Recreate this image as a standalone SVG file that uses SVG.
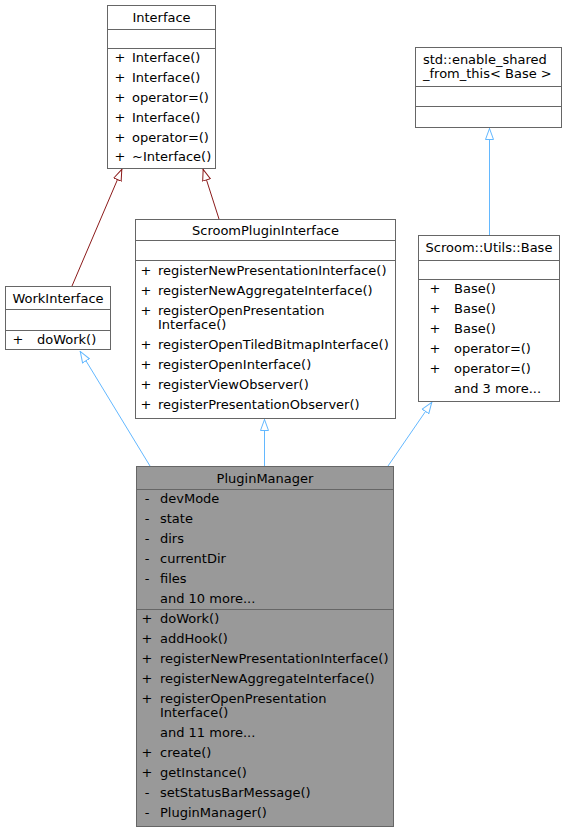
<svg xmlns="http://www.w3.org/2000/svg" width="567" height="832" viewBox="0 0 567 832">
<style>
text{font-family:"DejaVu Sans","Liberation Sans",sans-serif;font-size:13px;fill:#000}
.box{fill:#fff;stroke:#666;stroke-width:1}
.gbox{fill:#999;stroke:#666;stroke-width:1}
.div{stroke:#666;stroke-width:1}
.c{text-anchor:middle}
.red{stroke:#8b1a1a;stroke-width:1;fill:none}
.blue{stroke:#63b8ff;stroke-width:1;fill:none}
</style>
<defs>
<marker id="ar" viewBox="0 0 12 10" refX="12" refY="5" markerWidth="12" markerHeight="10" markerUnits="userSpaceOnUse" orient="auto">
<path d="M0.5,1 L11.5,5 L0.5,9 z" fill="#fff" stroke="#8b1a1a"/>
</marker>
<marker id="ab" viewBox="0 0 12 10" refX="12" refY="5" markerWidth="12" markerHeight="10" markerUnits="userSpaceOnUse" orient="auto">
<path d="M0.5,1 L11.5,5 L0.5,9 z" fill="#fff" stroke="#63b8ff"/>
</marker>
</defs>

<g id="edges">
<line class="red" x1="72" y1="286" x2="122" y2="169" marker-end="url(#ar)"/>
<line class="red" x1="219" y1="219" x2="203" y2="169" marker-end="url(#ar)"/>
<line class="blue" x1="150" y1="466" x2="80" y2="351" marker-end="url(#ab)"/>
<line class="blue" x1="264.5" y1="466" x2="264.5" y2="419" marker-end="url(#ab)"/>
<line class="blue" x1="388" y1="466" x2="432" y2="402" marker-end="url(#ab)"/>
<line class="blue" x1="489.5" y1="235" x2="489.5" y2="128" marker-end="url(#ab)"/>
</g>

<g id="Interface">
<rect class="box" x="107.5" y="5.5" width="108" height="163"/>
<line class="div" x1="107.5" y1="29.5" x2="215.5" y2="29.5"/>
<line class="div" x1="107.5" y1="48.5" x2="215.5" y2="48.5"/>
<text class="c" x="161.5" y="22">Interface</text>
<text class="c" x="120" y="62">+</text><text x="132" y="62">Interface()</text>
<text class="c" x="120" y="82">+</text><text x="132" y="82">Interface()</text>
<text class="c" x="120" y="102">+</text><text x="132" y="102">operator=()</text>
<text class="c" x="120" y="122">+</text><text x="132" y="122">Interface()</text>
<text class="c" x="120" y="142">+</text><text x="132" y="142">operator=()</text>
<text class="c" x="120" y="161">+</text><text x="132" y="161">~Interface()</text>
</g>

<g id="EnableShared">
<rect class="box" x="415.5" y="47.5" width="146" height="80"/>
<line class="div" x1="415.5" y1="86.5" x2="561.5" y2="86.5"/>
<line class="div" x1="415.5" y1="106.5" x2="561.5" y2="106.5"/>
<text x="423" y="64">std::enable_shared</text>
<text x="423" y="78">_from_this&lt; Base &gt;</text>
</g>

<g id="WorkInterface">
<rect class="box" x="5.5" y="286.5" width="105" height="63"/>
<line class="div" x1="5.5" y1="309.5" x2="110.5" y2="309.5"/>
<line class="div" x1="5.5" y1="330.5" x2="110.5" y2="330.5"/>
<text class="c" x="58" y="303">WorkInterface</text>
<text class="c" x="18" y="344">+</text><text x="37" y="344">doWork()</text>
</g>

<g id="ScroomPluginInterface">
<rect class="box" x="135.5" y="219.5" width="260" height="199"/>
<line class="div" x1="135.5" y1="240.5" x2="395.5" y2="240.5"/>
<line class="div" x1="135.5" y1="260.5" x2="395.5" y2="260.5"/>
<text class="c" x="265.5" y="235">ScroomPluginInterface</text>
<text class="c" x="146" y="275">+</text><text x="158" y="275">registerNewPresentationInterface()</text>
<text class="c" x="146" y="295">+</text><text x="158" y="295">registerNewAggregateInterface()</text>
<text class="c" x="146" y="315">+</text><text x="158" y="315">registerOpenPresentation</text>
<text x="158" y="329">Interface()</text>
<text class="c" x="146" y="349">+</text><text x="158" y="349">registerOpenTiledBitmapInterface()</text>
<text class="c" x="146" y="369">+</text><text x="158" y="369">registerOpenInterface()</text>
<text class="c" x="146" y="389">+</text><text x="158" y="389">registerViewObserver()</text>
<text class="c" x="146" y="409">+</text><text x="158" y="409">registerPresentationObserver()</text>
</g>

<g id="Base">
<rect class="box" x="418.5" y="235.5" width="141" height="166"/>
<line class="div" x1="418.5" y1="260.5" x2="559.5" y2="260.5"/>
<line class="div" x1="418.5" y1="279.5" x2="559.5" y2="279.5"/>
<text class="c" x="489" y="252">Scroom::Utils::Base</text>
<text class="c" x="435" y="293">+</text><text x="454" y="293">Base()</text>
<text class="c" x="435" y="313">+</text><text x="454" y="313">Base()</text>
<text class="c" x="435" y="333">+</text><text x="454" y="333">Base()</text>
<text class="c" x="435" y="353">+</text><text x="454" y="353">operator=()</text>
<text class="c" x="435" y="373">+</text><text x="454" y="373">operator=()</text>
<text x="454" y="393">and 3 more...</text>
</g>

<g id="PluginManager">
<rect class="gbox" x="136.5" y="466.5" width="257" height="360"/>
<line class="div" x1="136.5" y1="489.5" x2="393.5" y2="489.5"/>
<line class="div" x1="136.5" y1="609.5" x2="393.5" y2="609.5"/>
<text class="c" x="265" y="483">PluginManager</text>
<text class="c" x="147" y="503">-</text><text x="160" y="503">devMode</text>
<text class="c" x="147" y="523">-</text><text x="160" y="523">state</text>
<text class="c" x="147" y="543">-</text><text x="160" y="543">dirs</text>
<text class="c" x="147" y="563">-</text><text x="160" y="563">currentDir</text>
<text class="c" x="147" y="583">-</text><text x="160" y="583">files</text>
<text x="160" y="603">and 10 more...</text>
<text class="c" x="147" y="623">+</text><text x="160" y="623">doWork()</text>
<text class="c" x="147" y="643">+</text><text x="160" y="643">addHook()</text>
<text class="c" x="147" y="663">+</text><text x="160" y="663">registerNewPresentationInterface()</text>
<text class="c" x="147" y="683">+</text><text x="160" y="683">registerNewAggregateInterface()</text>
<text class="c" x="147" y="703">+</text><text x="160" y="703">registerOpenPresentation</text>
<text x="160" y="717">Interface()</text>
<text x="160" y="737">and 11 more...</text>
<text class="c" x="147" y="757">+</text><text x="160" y="757">create()</text>
<text class="c" x="147" y="777">+</text><text x="160" y="777">getInstance()</text>
<text class="c" x="147" y="797">-</text><text x="160" y="797">setStatusBarMessage()</text>
<text class="c" x="147" y="817">-</text><text x="160" y="817">PluginManager()</text>
</g>
</svg>
